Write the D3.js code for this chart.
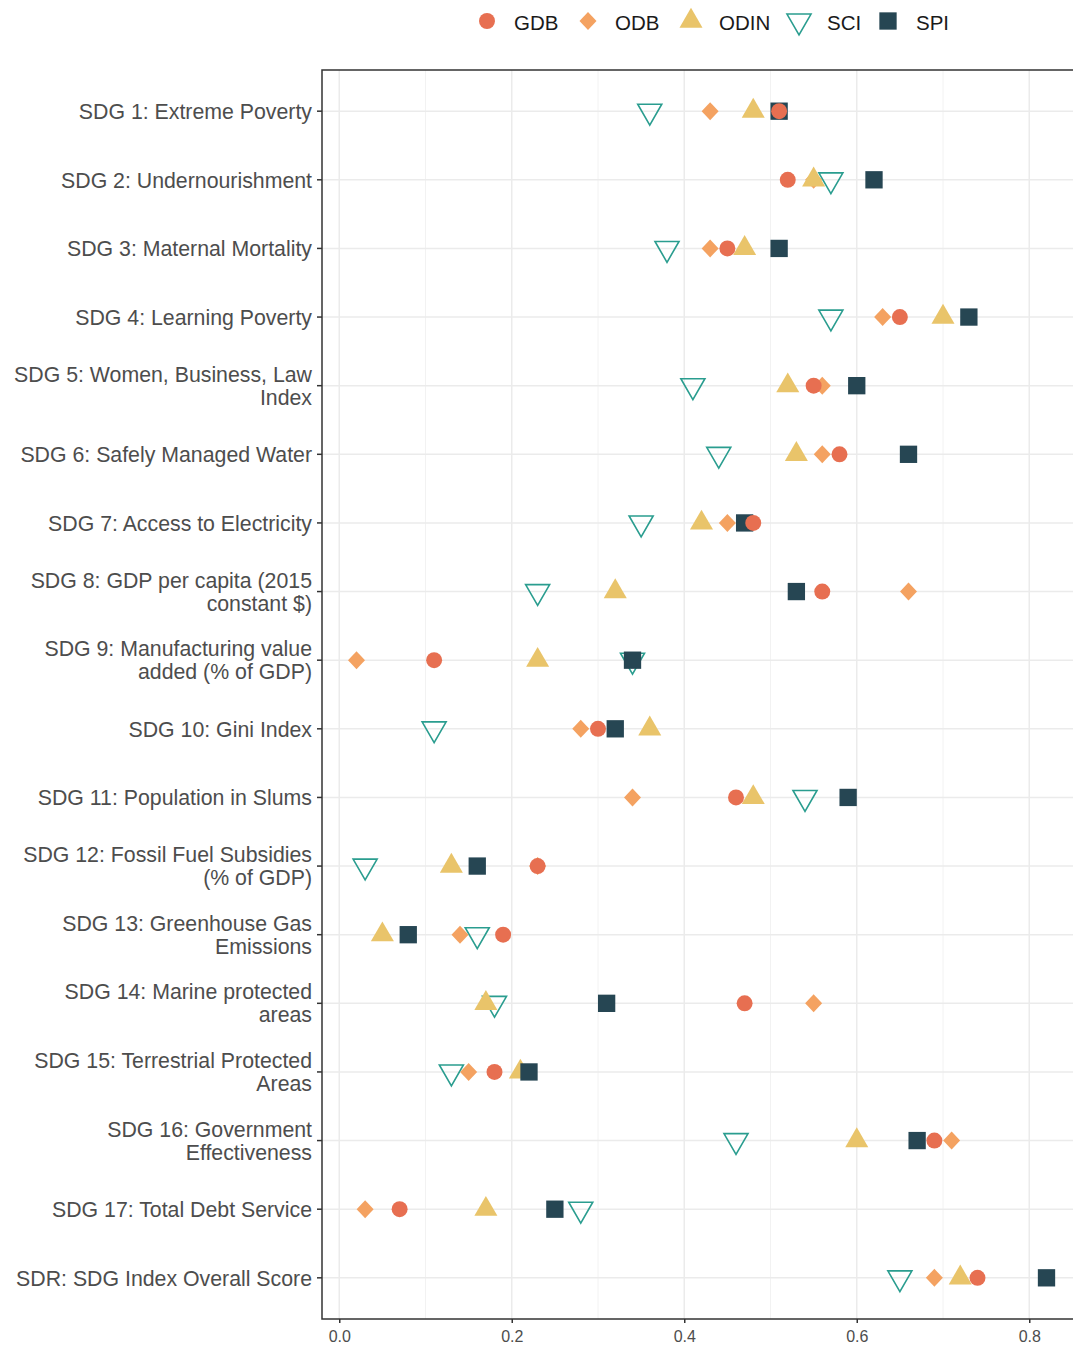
<!DOCTYPE html>
<html>
<head>
<meta charset="utf-8">
<script src="https://d3js.org/d3.v7.min.js"></script>
<style>
  body { margin: 0; background: #fff; }
  svg { display: block; font-family: "Liberation Sans", Arial, sans-serif; }
</style>
</head>
<body>
<div id="chart"></div>
<script>
// indicator rows, top to bottom (labels split onto lines as in the figure)
var categories = [
  ["SDG 1: Extreme Poverty"],
  ["SDG 2: Undernourishment"],
  ["SDG 3: Maternal Mortality"],
  ["SDG 4: Learning Poverty"],
  ["SDG 5: Women, Business, Law", "Index"],
  ["SDG 6: Safely Managed Water"],
  ["SDG 7: Access to Electricity"],
  ["SDG 8: GDP per capita (2015", "constant $)"],
  ["SDG 9: Manufacturing value", "added (% of GDP)"],
  ["SDG 10: Gini Index"],
  ["SDG 11: Population in Slums"],
  ["SDG 12: Fossil Fuel Subsidies", "(% of GDP)"],
  ["SDG 13: Greenhouse Gas", "Emissions"],
  ["SDG 14: Marine protected", "areas"],
  ["SDG 15: Terrestrial Protected", "Areas"],
  ["SDG 16: Government", "Effectiveness"],
  ["SDG 17: Total Debt Service"],
  ["SDR: SDG Index Overall Score"]
];

var gdb  = [0.51, 0.52, 0.45, 0.65, 0.55, 0.58, 0.48, 0.56, 0.11, 0.30, 0.46, 0.23, 0.19, 0.47, 0.18, 0.69, 0.07, 0.74];
var odb  = [0.43, 0.55, 0.43, 0.63, 0.56, 0.56, 0.45, 0.66, 0.02, 0.28, 0.34, 0.23, 0.14, 0.55, 0.15, 0.71, 0.03, 0.69];
var odin = [0.48, 0.55, 0.47, 0.70, 0.52, 0.53, 0.42, 0.32, 0.23, 0.36, 0.48, 0.13, 0.05, 0.17, 0.21, 0.60, 0.17, 0.72];
var sci  = [0.36, 0.57, 0.38, 0.57, 0.41, 0.44, 0.35, 0.23, 0.34, 0.11, 0.54, 0.03, 0.16, 0.18, 0.13, 0.46, 0.28, 0.65];
var spi  = [0.51, 0.62, 0.51, 0.73, 0.60, 0.66, 0.47, 0.53, 0.34, 0.32, 0.59, 0.16, 0.08, 0.31, 0.22, 0.67, 0.25, 0.82];

var xTicks = [0, 0.2, 0.4, 0.6, 0.8];

var series = [
  { key: "GDB",  values: gdb,  color: "#E76F51", shape: "circle" },
  { key: "ODB",  values: odb,  color: "#F4A261", shape: "diamond" },
  { key: "ODIN", values: odin, color: "#E9C46A", shape: "up" },
  { key: "SCI",  values: sci,  color: "#2A9D8F", shape: "down" },
  { key: "SPI",  values: spi,  color: "#264653", shape: "square" }
];

var width = 1073, height = 1351;
var margin = { top: 70, left: 322, bottom: 32 };
var panelRight = 1081; // ggplot panel runs past the image edge

var svg = d3.select("#chart").append("svg")
  .attr("width", width)
  .attr("height", height);

var x = d3.scaleLinear().domain([-0.02, 0.86]).range([margin.left, panelRight]);
var y = d3.scalePoint()
  .domain(d3.range(categories.length))
  .range([margin.top, height - margin.bottom])
  .padding(0.6);

// marker paths
function markerPath(shape) {
  if (shape == "circle") return d3.symbol(d3.symbolCircle, 200)();
  if (shape == "square") return d3.symbol(d3.symbolSquare, 300)();
  if (shape == "diamond") return "M0,-9L8.5,0L0,9L-8.5,0Z";
  if (shape == "up") return d3.symbol(d3.symbolTriangle, 230)();
  return d3.symbol(d3.symbolTriangle, 250)();
}

// grid lines
var grid = svg.append("g").attr("class", "grid");
var minor = d3.range(0.1, 0.86, 0.2);
grid.selectAll("line.minor").data(minor).enter().append("line")
  .attr("x1", function (d) { return x(d); })
  .attr("x2", function (d) { return x(d); })
  .attr("y1", margin.top).attr("y2", height - margin.bottom)
  .attr("stroke", "#f2f2f2").attr("stroke-width", 1);
grid.selectAll("line.major").data(xTicks).enter().append("line")
  .attr("x1", function (d) { return x(d); })
  .attr("x2", function (d) { return x(d); })
  .attr("y1", margin.top).attr("y2", height - margin.bottom)
  .attr("stroke", "#ebebeb").attr("stroke-width", 1.5);
grid.selectAll("line.row").data(d3.range(categories.length)).enter().append("line")
  .attr("x1", margin.left).attr("x2", width)
  .attr("y1", function (d) { return y(d); })
  .attr("y2", function (d) { return y(d); })
  .attr("stroke", "#ebebeb").attr("stroke-width", 1.5);

// points, drawn series by series
var pts = svg.append("g").attr("class", "points");
["SCI", "ODB", "ODIN", "SPI", "GDB"].forEach(function (k) {
  var s = series.find(function (d) { return d.key == k; });
  pts.selectAll(null).data(s.values).enter().append("path")
    .attr("d", markerPath(s.shape))
    .attr("transform", function (d, i) {
      return "translate(" + x(d) + "," + y(i) + ")" + (s.shape == "down" ? " rotate(180)" : "");
    })
    .attr("fill", s.shape == "down" ? "none" : s.color)
    .attr("stroke", s.shape == "down" ? s.color : "none")
    .attr("stroke-width", 1.6);
});

// panel border
svg.append("rect")
  .attr("x", margin.left).attr("y", margin.top)
  .attr("width", panelRight - margin.left)
  .attr("height", height - margin.bottom - margin.top)
  .attr("fill", "none").attr("stroke", "#333").attr("stroke-width", 1.5);

// x axis
var xAxis = svg.append("g")
  .attr("transform", "translate(0," + (height - margin.bottom) + ")")
  .call(d3.axisBottom(x).tickValues(xTicks).tickFormat(d3.format(".1f")).tickSize(4).tickPadding(8));
xAxis.select(".domain").remove();
xAxis.selectAll(".tick line").attr("stroke", "#333").attr("stroke-width", 1.5);
xAxis.selectAll(".tick text").attr("fill", "#4d4d4d").style("font-size", "16px");

// y axis with multi-line labels
var yAxis = svg.append("g").attr("class", "axis y");
var rows = yAxis.selectAll("g").data(categories).enter().append("g")
  .attr("transform", function (d, i) { return "translate(0," + y(i) + ")"; });
rows.append("line")
  .attr("x1", margin.left - 5).attr("x2", margin.left)
  .attr("stroke", "#333").attr("stroke-width", 1.5);
rows.append("text")
  .attr("text-anchor", "end")
  .attr("fill", "#4d4d4d")
  .style("font-size", "21.3px")
  .each(function (d) {
    var t = d3.select(this);
    var y0 = d.length == 1 ? 8 : -4;
    d.forEach(function (line, j) {
      t.append("tspan").attr("x", margin.left - 10).attr("y", y0 + j * 23).text(line);
    });
  });

// legend
var legendX = [487, 588, 691, 799, 888];
var textX = [514, 615, 719, 827, 916];
var legend = svg.append("g").attr("class", "legend");
series.forEach(function (s, i) {
  legend.append("path")
    .attr("d", markerPath(s.shape))
    .attr("transform", "translate(" + legendX[i] + ",21)" + (s.shape == "down" ? " rotate(180)" : ""))
    .attr("fill", s.shape == "down" ? "none" : s.color)
    .attr("stroke", s.shape == "down" ? s.color : "none")
    .attr("stroke-width", 1.6);
  legend.append("text")
    .attr("x", textX[i]).attr("y", 30)
    .attr("fill", "#1a1a1a")
    .style("font-size", "20.5px")
    .text(s.key);
});
</script>
</body>
</html>
